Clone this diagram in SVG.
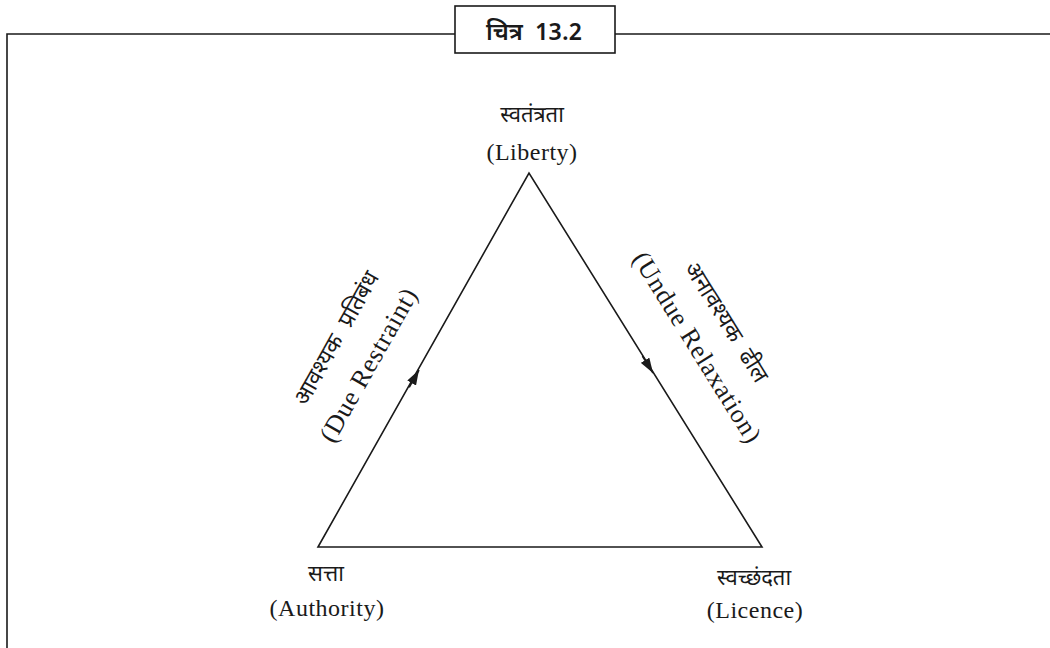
<svg xmlns="http://www.w3.org/2000/svg" width="1050" height="648" viewBox="0 0 1050 648">
<style>
.ln{stroke:#1a1a1a;stroke-width:1.6;fill:none}
.dv{font-family:"Noto Sans Devanagari","Noto Sans","Lohit Devanagari",sans-serif;font-size:22px;fill:#1a1a1a}
.dvr{font-size:23px;word-spacing:7px}
.en{font-family:"Liberation Serif","DejaVu Serif",serif;font-size:24px;letter-spacing:0.5px;fill:#1a1a1a}
.enr{font-size:26px;letter-spacing:0.8px}
.ttl{font-family:"Noto Sans Devanagari","Noto Sans","Liberation Sans",sans-serif;font-size:24px;font-weight:600;word-spacing:6px;fill:#1a1a1a}
</style>
<defs>
<marker id="ah" viewBox="0 0 15 10" refX="15" refY="5" markerWidth="15" markerHeight="10" markerUnits="userSpaceOnUse" orient="auto">
<path d="M0,0 L15,5 L0,10 Z" fill="#1a1a1a"/>
</marker>
</defs>
<rect width="1050" height="648" fill="#fff"/>
<g id="frame">
<path class="ln" d="M7,648 V34 H455 M615,34 H1050"/>
</g>
<g id="title">
<rect class="ln" x="455" y="6" width="160" height="47" fill="#fff"/>
<text class="ttl" x="534" y="40" text-anchor="middle">चित्र 13.2</text>
</g>
<g id="connectors">
<path class="ln" d="M318,547 L529,173 L762,547 Z"/>
<path class="ln" d="M409.2,387.4 L419,370" marker-end="url(#ah)"/>
<path class="ln" d="M642.4,356 L653,373" marker-end="url(#ah)"/>
</g>
<g id="liberty">
<text class="dv" x="532" y="122" text-anchor="middle">स्वतंत्रता</text>
<text class="en" x="532" y="160" text-anchor="middle">(Liberty)</text>
</g>
<g id="authority">
<text class="dv" x="326" y="581" text-anchor="middle">सत्ता</text>
<text class="en" x="327" y="616" text-anchor="middle">(Authority)</text>
</g>
<g id="licence">
<text class="dv" x="754" y="585" text-anchor="middle">स्वच्छंदता</text>
<text class="en" x="755" y="618" text-anchor="middle">(Licence)</text>
</g>
<g id="due-restraint">
<text class="dv dvr" transform="translate(343,342) rotate(-60.57)" text-anchor="middle">आवश्यक प्रतिबंध</text>
<text class="en enr" transform="translate(376,369) rotate(-60.57)" text-anchor="middle">(Due Restraint)</text>
</g>
<g id="undue-relaxation">
<text class="dv dvr" transform="translate(720,326) rotate(58.08)" text-anchor="middle">अनावश्यक ढील</text>
<text class="en enr" transform="translate(690,352) rotate(58.08)" text-anchor="middle">(Undue Relaxation)</text>
</g>
</svg>
